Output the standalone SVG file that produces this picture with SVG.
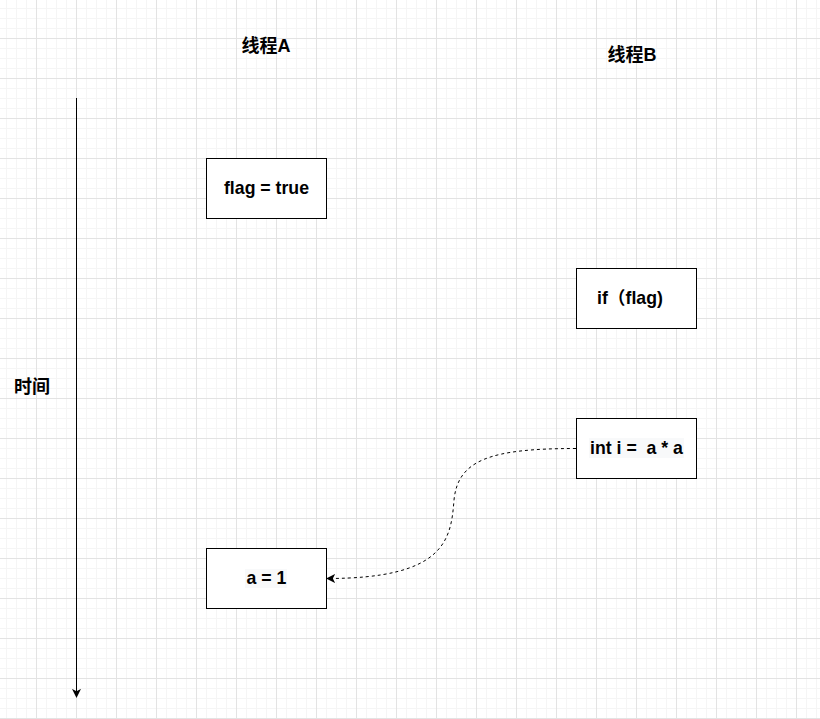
<svg xmlns="http://www.w3.org/2000/svg" width="820" height="719" viewBox="0 0 820 719">
<style>
.box{fill:#ffffff;stroke:#000000;stroke-width:1}
.t{font-family:"Liberation Sans","Noto Sans CJK SC",Arial,sans-serif;font-size:17.7px;font-weight:bold;fill:#000000}
.c{font-size:18px}
.hl{fill:#f8f9fa}
</style>
<defs>
<pattern id="minor" x="6" y="8" width="10" height="10" patternUnits="userSpaceOnUse">
<path d="M0.5 0V10M0 0.5H10" stroke="#f5f5f5" stroke-width="1" fill="none"/>
</pattern>
<pattern id="major" x="36" y="38" width="40" height="40" patternUnits="userSpaceOnUse">
<path d="M0.5 0V40M0 0.5H40" stroke="#e3e3e3" stroke-width="1" fill="none"/>
</pattern>
<marker id="arr" viewBox="0 0 10 10" refX="9" refY="5" markerWidth="9" markerHeight="9" markerUnits="userSpaceOnUse" orient="auto">
<path d="M0 0L10 5L0 10L2.5 5Z" fill="#000000"/>
</marker>
<marker id="arr2" viewBox="0 0 10 10" refX="9" refY="5" markerWidth="9" markerHeight="9" markerUnits="userSpaceOnUse" orient="auto">
<path d="M0 0L10 5L0 10L2.5 5Z" fill="#000000"/>
</marker>
</defs>
<rect width="820" height="719" fill="#ffffff"/>
<rect width="820" height="719" fill="url(#minor)"/>
<rect width="820" height="719" fill="url(#major)"/>

<g id="connectors">
<line x1="76.5" y1="98" x2="76.5" y2="697" stroke="#000000" stroke-width="1" marker-end="url(#arr)"/>
<path d="M576,448.5 C490,448.5 458,460 454,500 C451,540 445,578.5 327,578.5" fill="none" stroke="#000000" stroke-width="1" stroke-dasharray="3 3" marker-end="url(#arr2)"/>
</g>

<g id="label-threadA"><text class="t c" x="266" y="52" text-anchor="middle">线程A</text></g>
<g id="label-threadB"><text class="t c" x="632" y="61" text-anchor="middle">线程B</text></g>
<g id="label-time"><text class="t c" x="32" y="393" text-anchor="middle">时间</text></g>

<g id="node-flag">
<rect class="box" x="206.5" y="158.5" width="120" height="60"/>
<text class="t" x="266.5" y="194" text-anchor="middle">flag = true</text>
</g>
<g id="node-if">
<rect class="box" x="576.5" y="268.5" width="120" height="60"/>
<text class="t" x="597" y="304">if（flag)</text>
</g>
<g id="node-int">
<rect class="box" x="576.5" y="418.5" width="120" height="60"/>
<rect class="hl" x="589" y="438" width="95" height="20"/>
<text class="t" x="636.5" y="454" text-anchor="middle" xml:space="preserve">int i =  a * a</text>
</g>
<g id="node-a">
<rect class="box" x="206.5" y="548.5" width="120" height="60"/>
<rect class="hl" x="245" y="569" width="42" height="19"/>
<text class="t" x="266.5" y="584" text-anchor="middle">a = 1</text>
</g>
</svg>
